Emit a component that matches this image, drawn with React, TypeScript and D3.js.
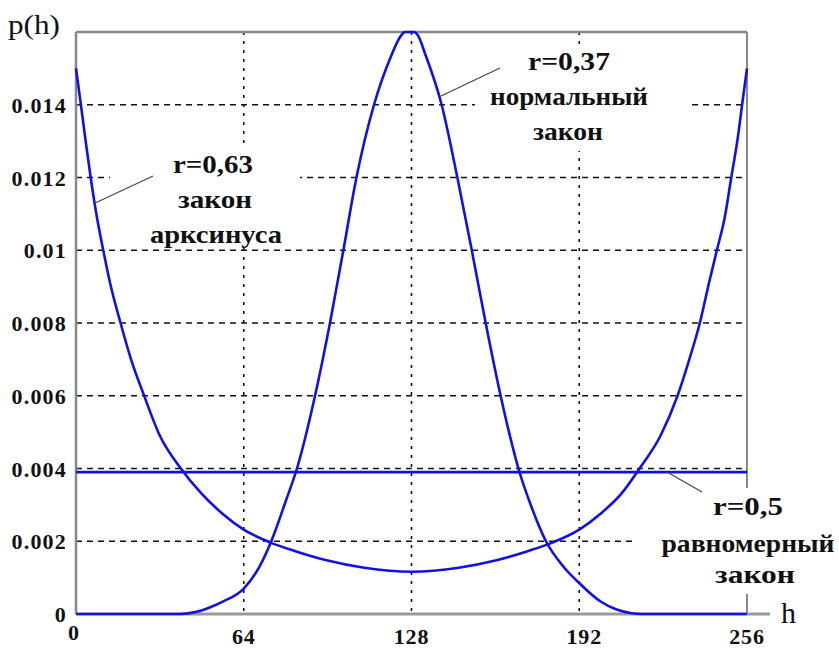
import React from "react";
import * as d3 from "d3";

const xTicks = [0, 64, 128, 192, 256];
const xTickLabels = ["0", "64", "128", "192", "256"];
const yTicks = [0, 0.002, 0.004, 0.006, 0.008, 0.01, 0.012, 0.014];
const yTickLabels = ["0", "0.002", "0.004", "0.006", "0.008", "0.01", "0.012", "0.014"];

// arcsine law (r=0,63)
const arcH = [0, 1.5, 3.5, 5.6, 8, 10.4, 13, 17, 21, 26, 32, 40, 48, 56, 64, 74, 84, 96, 110, 128,
  146, 160, 172, 182, 192, 200, 208, 215, 223, 229.5, 234, 238, 241.5, 244.5, 247.5, 250, 252.5, 254.5, 256];
const arcP = [0.0150, 0.0142, 0.0131, 0.0120, 0.0109, 0.0100, 0.0091, 0.0080, 0.0070, 0.0060, 0.0049, 0.0040, 0.0033, 0.00275, 0.00232, 0.00197, 0.00172, 0.00147, 0.00127, 0.00116,
  0.00127, 0.00147, 0.00172, 0.00197, 0.00232, 0.00275, 0.0033, 0.0040, 0.0049, 0.0060, 0.0070, 0.0080, 0.0091, 0.0100, 0.0109, 0.0120, 0.0131, 0.0142, 0.0150];

// normal law (r=0,37)
const normH = [0, 40, 46, 51, 56, 64, 70, 74.5, 80, 84.3, 91.2, 96.9, 102, 107, 113.7, 120, 124, 125.5, 129, 130.5, 133.2, 139.5, 145.5, 151, 156.3, 162, 168.8, 174, 179.3, 186, 192, 200, 206, 212, 216, 256];
const normP = [0, 0, 0.00006, 0.00018, 0.00034, 0.00070, 0.0013, 0.0020, 0.0031, 0.0040, 0.0060, 0.0080, 0.0100, 0.0120, 0.0140, 0.0153, 0.0159, 0.0160, 0.0160, 0.0159, 0.0154, 0.0140, 0.0120, 0.0100, 0.0080, 0.0060, 0.0040, 0.0029, 0.0020, 0.0013, 0.00085, 0.00035, 0.00013, 0.00002, 0, 0];

// uniform law (r=0,5)
const uniH = [0, 256];
const uniP = [0.0039, 0.0039];

const W = 839, H = 650;
const x = d3.scaleLinear().domain([0, 256]).range([76, 747]);
const y = d3.scaleLinear().domain([0, 0.016]).range([614, 32]);

const line = d3.line<[number, number]>()
  .x(d => x(d[0]))
  .y(d => y(d[1]))
  .curve(d3.curveMonotoneX);

const zip = (a: number[], b: number[]) => a.map((v, i) => [v, b[i]] as [number, number]);

const serif = "'Liberation Serif', 'Times New Roman', serif";
const blue = "#1212e0";

export default function App() {
  return (
    <svg width={W} height={H} style={{ position: "absolute", left: 0, top: 0, background: "#fff" }}
      fontFamily={serif}>
      <rect x={0} y={0} width={W} height={H} fill="#fff" />
      {/* grid */}
      {yTicks.filter(v => v > 0).map(v => (
        <line key={"gy" + v} x1={x(0)} x2={x(256)} y1={y(v)} y2={y(v)}
          stroke="#111" strokeWidth={1.3} strokeDasharray="6,5" />
      ))}
      {xTicks.filter(v => v > 0 && v < 256).map(v => (
        <line key={"gx" + v} x1={x(v)} x2={x(v)} y1={y(0.016)} y2={y(0)}
          stroke="#111" strokeWidth={1.6} strokeDasharray="3,6" />
      ))}
      {/* frame */}
      <line x1={x(0)} x2={x(256)} y1={y(0.016)} y2={y(0.016)} stroke="#888" strokeWidth={2.5} />
      <line x1={x(256)} x2={x(256)} y1={y(0.016)} y2={y(0)} stroke="#888" strokeWidth={2} />
      <line x1={x(0)} x2={x(0)} y1={y(0.016)} y2={y(0)} stroke="#888" strokeWidth={2.5} />
      <line x1={x(0)} x2={770} y1={y(0)} y2={y(0)} stroke="#999" strokeWidth={3} />
      {/* label backgrounds */}
      <rect x={110} y={146} width={190} height={102} fill="#fff" />
      <rect x={475} y={47} width={213} height={104} fill="#fff" />
      <rect x={637} y={488} width={202} height={106} fill="#fff" />
      {/* curves */}
      <path d={line(zip(uniH, uniP)) || ""} fill="none" stroke={blue} strokeWidth={2.6} />
      <path d={line(zip(arcH, arcP)) || ""} fill="none" stroke={blue} strokeWidth={2.6} />
      <path d={line(zip(normH, normP)) || ""} fill="none" stroke={blue} strokeWidth={2.6} />
      {/* leaders */}
      <line x1={153} y1={176} x2={93} y2={204} stroke="#444" strokeWidth={1.2} />
      <line x1={500} y1={68} x2={441} y2={96} stroke="#444" strokeWidth={1.2} />
      <line x1={667} y1={472} x2={702} y2={492} stroke="#444" strokeWidth={1.2} />
      {/* tick labels */}
      {yTicks.map((v, i) => (
        <text key={"ty" + v} x={67} y={y(v) + 8} textAnchor="end" fontSize={22} fontWeight="bold"
          letterSpacing={1.2} fill="#111">{yTickLabels[i]}</text>
      ))}
      {xTicks.map((v, i) => (
        <text key={"tx" + v} x={x(v) - (i === 0 ? 2 : 0) + (i === 3 ? 5 : 0)} y={i === 0 ? 640 : 644}
          textAnchor="middle" fontSize={22} fontWeight="bold" letterSpacing={0.8} fill="#111">{xTickLabels[i]}</text>
      ))}
      <text x={8} y={34} fontSize={27} fill="#111" textLength={52} lengthAdjust="spacingAndGlyphs">p(h)</text>
      <text x={781} y={623} fontSize={30} fill="#111">h</text>
      {/* annotations */}
      <g fontWeight="bold" fontSize={25} fill="#111" textAnchor="middle">
        <text x={213} y={173} textLength={80} lengthAdjust="spacingAndGlyphs">r=0,63</text>
        <text x={215} y={208} textLength={74} lengthAdjust="spacingAndGlyphs">закон</text>
        <text x={216} y={243} textLength={132} lengthAdjust="spacingAndGlyphs">арксинуса</text>

        <text x={569} y={70} textLength={82} lengthAdjust="spacingAndGlyphs">r=0,37</text>
        <text x={569} y={105} textLength={158} lengthAdjust="spacingAndGlyphs">нормальный</text>
        <text x={568} y={140} textLength={70} lengthAdjust="spacingAndGlyphs">закон</text>

        <text x={748} y={515} textLength={70} lengthAdjust="spacingAndGlyphs">r=0,5</text>
        <text x={748} y={552} textLength={173} lengthAdjust="spacingAndGlyphs">равномерный</text>
        <text x={755} y={583} textLength={80} lengthAdjust="spacingAndGlyphs">закон</text>
      </g>
    </svg>
  );
}
